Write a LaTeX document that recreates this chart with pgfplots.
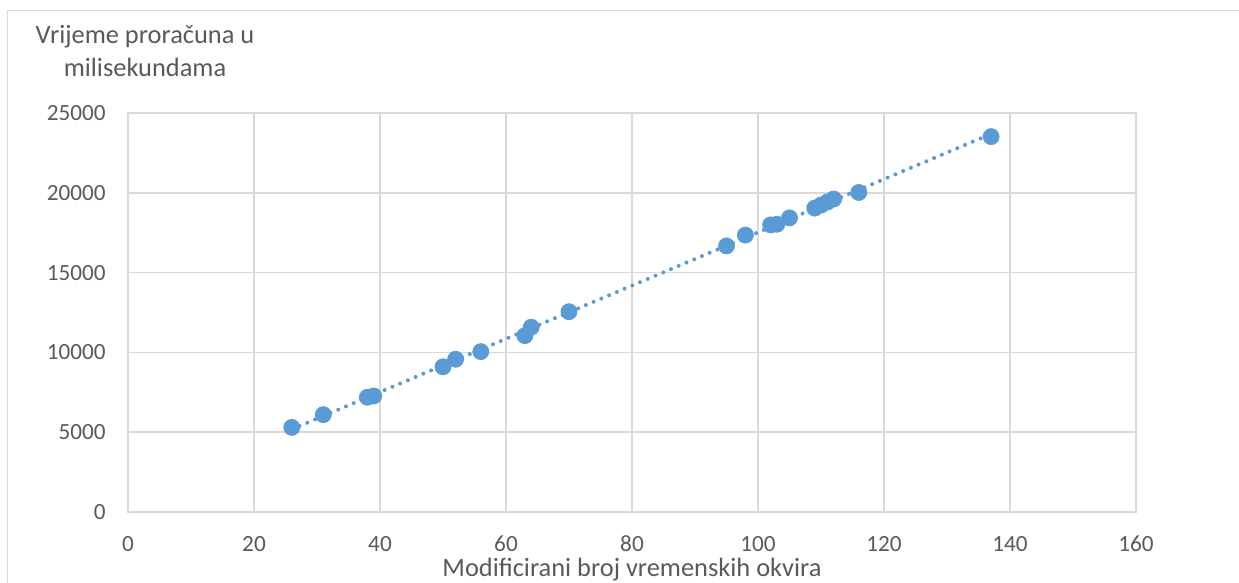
\documentclass[border=0pt]{standalone}
\usepackage{fontspec}
\setmainfont{Carlito}
\usepackage{pgfplots}
\pgfplotsset{compat=1.18}
\usepackage{pgfplotstable}
\definecolor{pt}{HTML}{5B9BD5}
\definecolor{txt}{HTML}{595959}
\definecolor{grd}{HTML}{D9D9D9}
\pgfplotstableread{
x y
26 5300
31 6100
38 7190
39 7270
50 9100
52 9570
56 10050
63 11050
64 11580
70 12550
95 16670
98 17350
102 17990
103 18030
105 18430
109 19040
110 19230
111 19420
112 19610
116 20020
137 23520
}\data
\begin{document}
\begin{tikzpicture}
\useasboundingbox (0pt,0pt) rectangle (619.5pt,291.5pt);
\draw[grd, line width=0.75pt] (3.65pt,-2pt) -- (3.65pt,286.2pt) -- (622pt,286.2pt);
\begin{axis}[
  at={(64pt,35.5pt)}, anchor=south west,
  scale only axis, width=504pt, height=199.5pt,
  xmin=0, xmax=160, ymin=0, ymax=25000,
  xtick={0,20,...,160}, ytick={0,5000,...,25000},
  grid=major,
  grid style={grd, line width=0.75pt},
  axis line style={grd, line width=0.75pt},
  tick style={draw=none},
  scaled ticks=false,
  /pgf/number format/assume math mode=true,
  /pgf/number format/1000 sep={},
  ticklabel style={text=txt, font=\fontsize{11.6}{13}\selectfont, inner sep=0pt},
  xticklabel style={anchor=center, yshift=-16pt},
  yticklabel style={anchor=east, xshift=-11pt},
  xlabel={Modificirani broj vremenskih okvira},
  xlabel style={at={(axis description cs:0.5,0)}, anchor=center, yshift=-29pt, text=txt, font=\fontsize{13.2}{16.5}\selectfont, inner sep=0pt},
  clip=false,
]
\addplot[pt, line width=2pt, dash pattern=on 0pt off 4.2pt, line cap=round]
  table[x=x, y={create col/linear regression={y=y}}] {\data};
\addplot[only marks, mark=*, mark size=4pt, mark options={draw=pt, fill=pt}]
  table[x=x, y=y] {\data};
\node[align=center, text=txt, font=\fontsize{13.2}{16.5}\selectfont, anchor=center, inner sep=0pt]
  at ([xshift=8.5pt, yshift=30.75pt]rel axis cs:0,1) {Vrijeme proračuna u\\milisekundama};
\end{axis}
\end{tikzpicture}
\end{document}
